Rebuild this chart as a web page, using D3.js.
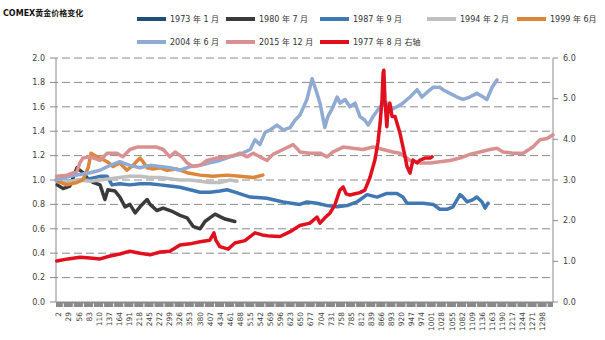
<!DOCTYPE html>
<html><head><meta charset="utf-8">
<script src="https://cdn.jsdelivr.net/npm/d3@7"></script>
<style>
body{margin:0;background:#fff}
svg{display:block}
text{font-family:"DejaVu Sans","Noto Sans CJK SC",sans-serif;fill:#404040}
</style>
</head><body><svg id="c" width="605" height="340"></svg>
<script>
// ---------- data ----------
const leftTicks = [0, 0.2, 0.4, 0.6, 0.8, 1.0, 1.2, 1.4, 1.6, 1.8, 2.0];
const rightTicks = [0, 1, 2, 3, 4, 5, 6];
const xTickLabels = [2,29,56,83,110,137,164,191,218,245,272,299,326,353,380,407,434,461,488,515,542,569,596,623,650,677,704,731,758,785,812,839,866,893,920,947,974,1001,1028,1055,1082,1109,1136,1163,1190,1217,1244,1271,1298];
const dayCount = 1331;
const seriesNames = ["1973 年 1 月","1980 年 7 月","1987 年 9 月","1994 年 2 月","1999 年 6月","2004 年 6 月","2015 年 12 月","1977 年 8 月 右轴"];

const s1973 = [];
const s1980 = [[3,0.96],[19,0.93],[37,0.95],[56,1.1],[64,1.08],[72,1.06],[83,1.02],[99,0.98],[118,0.96],[131,0.84],[139,0.92],[158,0.91],[171,0.86],[185,0.78],[198,0.80],[212,0.73],[225,0.78],[244,0.84],[252,0.80],[270,0.75],[287,0.77],[313,0.74],[332,0.71],[351,0.69],[367,0.62],[386,0.60],[399,0.66],[412,0.69],[426,0.72],[439,0.70],[453,0.68],[466,0.67],[479,0.66]];
const s1987 = [[0,1.0],[37,0.99],[64,1.0],[91,1.01],[118,1.03],[137,1.03],[150,0.96],[171,0.97],[198,0.96],[225,0.97],[252,0.97],[279,0.96],[305,0.95],[332,0.94],[359,0.92],[386,0.90],[412,0.90],[439,0.91],[458,0.92],[479,0.90],[520,0.86],[565,0.85],[608,0.82],[653,0.80],[672,0.82],[699,0.81],[726,0.79],[753,0.78],[779,0.79],[806,0.82],[833,0.88],[860,0.86],[886,0.89],[913,0.89],[929,0.86],[940,0.81],[956,0.81],[983,0.81],[1010,0.80],[1028,0.76],[1047,0.76],[1063,0.78],[1082,0.88],[1090,0.86],[1101,0.82],[1117,0.84],[1127,0.86],[1141,0.82],[1149,0.77],[1157,0.81]];
const s1994 = [[0,1.0],[37,0.99],[64,1.0],[91,0.99],[118,1.0],[145,1.01],[171,1.02],[198,1.03],[225,1.03],[252,1.02],[279,1.02],[305,1.01],[332,1.0],[359,1.0],[386,0.99],[412,0.98],[439,0.98],[466,1.0],[485,0.99]];
const s1999 = [[3,0.99],[29,0.96],[56,0.98],[72,1.0],[86,1.1],[94,1.22],[104,1.2],[118,1.18],[137,1.15],[153,1.11],[171,1.14],[190,1.08],[206,1.12],[225,1.18],[233,1.15],[244,1.1],[260,1.09],[279,1.1],[297,1.08],[324,1.09],[351,1.06],[386,1.04],[420,1.03],[458,1.04],[493,1.03],[528,1.02],[554,1.04]];
const s2004 = [[0,1.0],[37,1.03],[91,1.06],[118,1.08],[145,1.12],[171,1.15],[198,1.12],[225,1.10],[252,1.12],[279,1.11],[305,1.10],[332,1.08],[359,1.11],[386,1.12],[412,1.14],[439,1.16],[466,1.19],[493,1.21],[520,1.25],[533,1.33],[546,1.29],[560,1.39],[573,1.41],[592,1.45],[608,1.41],[627,1.43],[640,1.49],[653,1.53],[672,1.66],[686,1.83],[699,1.71],[707,1.63],[720,1.43],[728,1.52],[742,1.60],[753,1.68],[761,1.63],[774,1.66],[787,1.60],[801,1.63],[814,1.52],[827,1.49],[836,1.45],[849,1.52],[868,1.60],[886,1.63],[894,1.57],[913,1.60],[929,1.63],[948,1.68],[967,1.74],[980,1.68],[994,1.72],[1010,1.76],[1028,1.76],[1036,1.74],[1055,1.71],[1074,1.68],[1090,1.66],[1108,1.68],[1127,1.71],[1144,1.68],[1154,1.66],[1168,1.76],[1181,1.82]];
const s2015 = [[2,1.03],[29,1.04],[56,1.07],[64,1.14],[72,1.18],[91,1.19],[118,1.16],[137,1.22],[163,1.22],[179,1.19],[198,1.25],[217,1.27],[244,1.27],[270,1.27],[287,1.25],[305,1.19],[319,1.23],[337,1.19],[351,1.14],[367,1.11],[386,1.12],[404,1.16],[431,1.18],[458,1.19],[474,1.20],[493,1.22],[512,1.19],[528,1.22],[546,1.19],[565,1.16],[581,1.21],[608,1.25],[635,1.29],[648,1.25],[653,1.23],[680,1.22],[707,1.22],[726,1.19],[742,1.23],[769,1.27],[795,1.26],[822,1.25],[849,1.27],[876,1.25],[902,1.23],[921,1.22],[948,1.16],[975,1.14],[1002,1.14],[1028,1.15],[1055,1.16],[1082,1.18],[1108,1.21],[1135,1.23],[1162,1.25],[1181,1.26],[1197,1.23],[1224,1.22],[1251,1.22],[1277,1.27],[1296,1.33],[1315,1.34],[1331,1.37]];
const s1977 = [[2,1.01],[32,1.06],[64,1.10],[91,1.08],[118,1.06],[145,1.13],[171,1.18],[198,1.25],[225,1.20],[252,1.16],[279,1.23],[305,1.25],[332,1.40],[359,1.43],[386,1.48],[412,1.52],[423,1.70],[428,1.52],[439,1.36],[461,1.30],[479,1.45],[506,1.51],[533,1.70],[552,1.65],[573,1.62],[600,1.61],[627,1.73],[653,1.88],[680,1.94],[699,2.09],[707,1.94],[720,2.07],[734,2.19],[747,2.39],[760,2.75],[769,2.83],[777,2.66],[787,2.63],[801,2.66],[814,2.69],[827,2.75],[836,2.95],[841,3.07],[854,3.49],[862,3.91],[868,4.40],[873,4.97],[876,5.63],[878,5.70],[881,4.97],[886,4.31],[889,4.72],[894,4.89],[900,4.56],[908,4.56],[916,4.31],[921,4.16],[929,3.82],[935,3.57],[940,3.33],[948,3.17],[956,3.49],[967,3.42],[975,3.49],[988,3.54],[1002,3.54],[1007,3.57]];

// ---------- styles ----------
const seriesColors = ["#1F4E79","#3A3A3A","#3F78B2","#BFBFBF","#DD8539","#8FAAD3","#D99090","#E1101E"];
const seriesData = [s1973,s1980,s1987,s1994,s1999,s2004,s2015,s1977];
const seriesAxis = ["L","L","L","L","L","L","L","R"];

const svg = d3.select("#c");
const W = 605, H = 340;
const plot = {l:56, r:553, t:58, b:302};

const x = d3.scaleLinear().domain([0, dayCount]).range([plot.l, plot.r]);
const yL = d3.scaleLinear().domain([0, 2]).range([plot.b, plot.t]);
const yR = d3.scaleLinear().domain([0, 6]).range([plot.b, plot.t]);

// title
svg.append("text").attr("x",3).attr("y",16).attr("font-size",8).attr("font-weight","bold")
  .style("fill","#111").text("COMEX黄金价格变化");

// legend
const legPos = [[137,19],[226,19],[320,19],[427,19],[517,19],[137,42],[226,42],[320,42]];
seriesNames.forEach((n,i)=>{
  const [lx,ly] = legPos[i];
  svg.append("rect").attr("x",lx).attr("y",ly-2).attr("width",29).attr("height",4).attr("fill",seriesColors[i]);
  svg.append("text").attr("x",lx+33).attr("y",ly+3).attr("font-size",8).style("fill","#333").text(n);
});

// gridlines
svg.append("g").selectAll("line").data(leftTicks.filter(d=>d>0)).join("line")
  .attr("x1",plot.l-6).attr("x2",plot.r).attr("y1",d=>yL(d)).attr("y2",d=>yL(d))
  .attr("stroke","#8a8a8a").attr("stroke-width",1).attr("stroke-dasharray","8,4");
// left ticks at 0
svg.append("line").attr("x1",plot.l-6).attr("x2",plot.l).attr("y1",yL(0)).attr("y2",yL(0)).attr("stroke","#8a8a8a");

// left labels
svg.append("g").selectAll("text").data(leftTicks).join("text")
  .attr("x",45).attr("y",d=>yL(d)).attr("dy","0.35em").attr("text-anchor","end")
  .attr("font-size",8).text(d=>d.toFixed(1));

// right axis
svg.append("line").attr("x1",plot.r).attr("x2",plot.r).attr("y1",plot.t).attr("y2",plot.b).attr("stroke","#8a8a8a");
svg.append("g").selectAll("line").data(rightTicks).join("line")
  .attr("x1",plot.r).attr("x2",plot.r+5).attr("y1",d=>yR(d)).attr("y2",d=>yR(d)).attr("stroke","#8a8a8a");
svg.append("g").selectAll("text").data(rightTicks).join("text")
  .attr("x",plot.r+10).attr("y",d=>yR(d)).attr("dy","0.35em").attr("font-size",8).text(d=>d.toFixed(1));

// left axis line
svg.append("line").attr("x1",plot.l).attr("x2",plot.l).attr("y1",plot.t).attr("y2",plot.b).attr("stroke","#8a8a8a");

// x axis band (dense category ticks)
svg.append("rect").attr("x",plot.l).attr("y",plot.b).attr("width",plot.r-plot.l).attr("height",5).attr("fill","#8a8a8a");
svg.append("g").selectAll("line").data(xTickLabels).join("line")
  .attr("x1",d=>x(d)+6.5).attr("x2",d=>x(d)+6.5).attr("y1",plot.b+1.5).attr("y2",plot.b+5)
  .attr("stroke","#fff").attr("stroke-width",1);
svg.append("line").attr("x1",plot.l).attr("x2",plot.r).attr("y1",plot.b).attr("y2",plot.b).attr("stroke","#8a8a8a");

// x labels
svg.append("g").selectAll("text").data(xTickLabels).join("text")
  .attr("transform",d=>`translate(${x(d)+2},${plot.b+10}) rotate(-90)`)
  .attr("text-anchor","end").attr("dy","0.35em").attr("font-size",7.5).text(d=>d);

// series
const lineL = d3.line().x(d=>x(d[0])).y(d=>yL(d[1]));
const lineR = d3.line().x(d=>x(d[0])).y(d=>yR(d[1]));
seriesData.forEach((s,i)=>{
  if(!s.length) return;
  svg.append("path").datum(s).attr("d", seriesAxis[i]==="R"?lineR:lineL)
    .attr("fill","none").attr("stroke",seriesColors[i]).attr("stroke-width",3.5)
    .attr("stroke-linejoin","round").attr("stroke-linecap","round");
});
</script>
</body></html>
